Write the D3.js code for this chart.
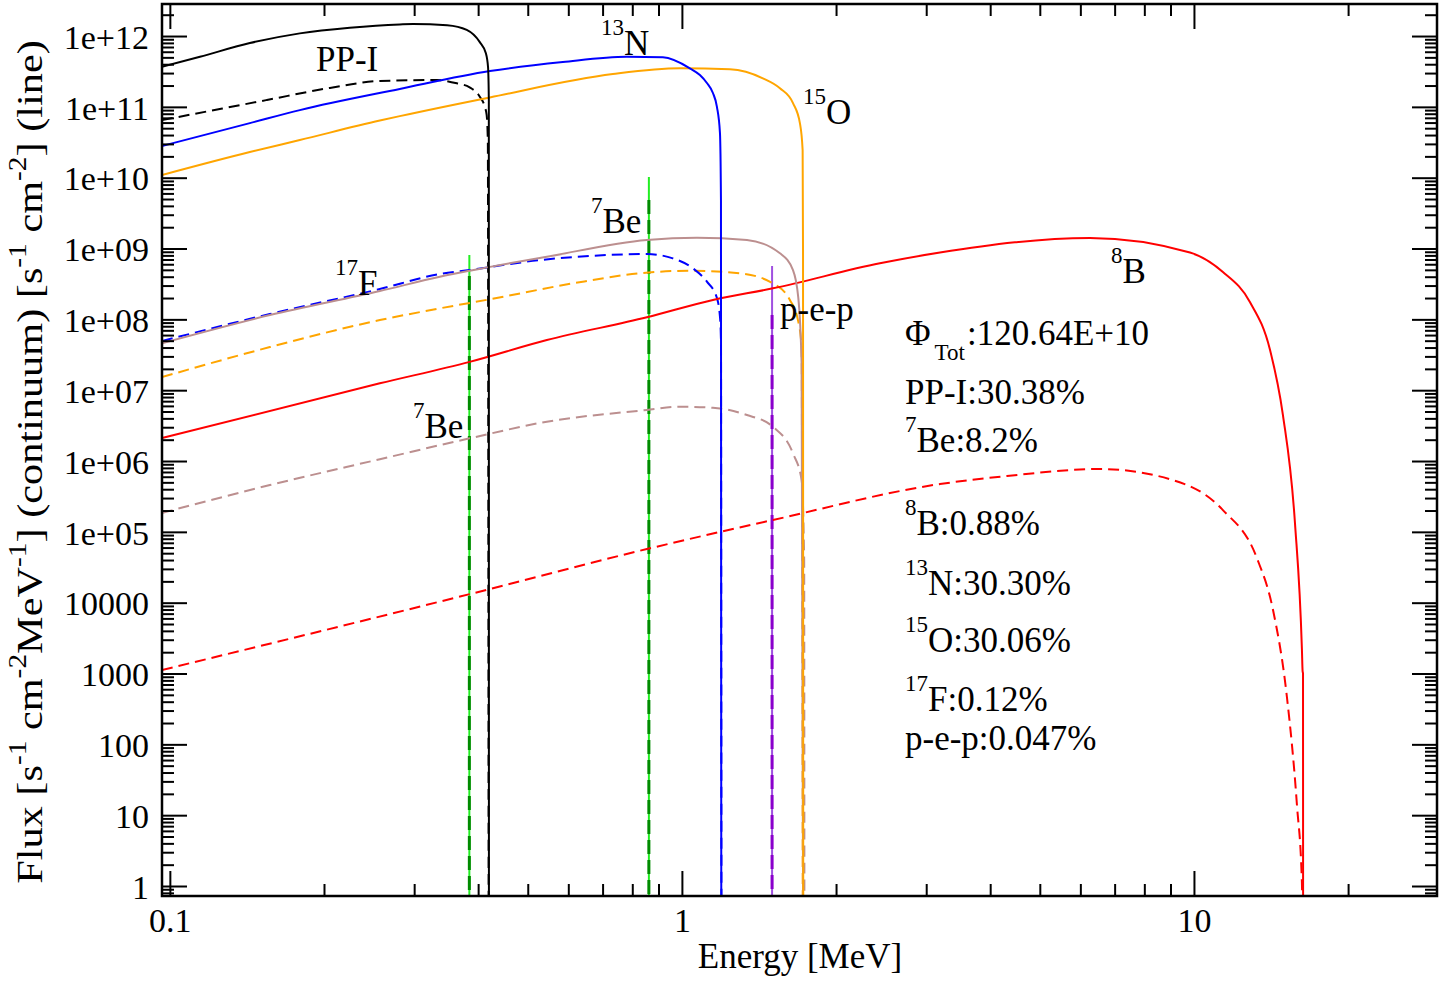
<!DOCTYPE html>
<html><head><meta charset="utf-8">
<script src="https://cdn.jsdelivr.net/npm/d3@7"></script>
<style>
body{margin:0;background:#fff;}
svg{display:block;background:#fff;}
text{font-family:"Liberation Serif","Times New Roman",Times,serif;fill:#000;white-space:pre;}
</style></head><body>
<svg id="chart" width="1442" height="982"></svg>
<script>
// ---------- tick values & labels ----------
const xTickValues = [0.1, 1, 10];
const xTickLabels = ["0.1", "1", "10"];
const xMinorTicks = [0.2,0.3,0.4,0.5,0.6,0.7,0.8,0.9,2,3,4,5,6,7,8,9,20];
const yTickValues = [1,10,100,1000,1e4,1e5,1e6,1e7,1e8,1e9,1e10,1e11,1e12];
const yTickLabels = ["1","10","100","1000","10000","1e+05","1e+06","1e+07","1e+08","1e+09","1e+10","1e+11","1e+12"];

// ---------- continuum spectra: [energy MeV, flux] ----------
const ppSolid = [[0.0965,3.69e11],[0.1145,5.1e11],[0.1433,7.96e11],[0.1794,1.09e12],[0.2246,1.31e12],[0.2812,1.46e12],[0.2984,1.48e12],[0.3479,1.42e12],[0.380,1.22e12],[0.403,8.2e11],[0.414,5.75e11],[0.4182,3.65e11],[0.4197,1.25e11],[0.4199,1e-2]];
const ppDashed = [[0.0965,6.5e10],[0.1547,1.25e11],[0.2054,1.85e11],[0.2571,2.32e11],[0.332,2.39e11],[0.3635,2.15e11],[0.385,1.89e11],[0.403,1.39e11],[0.4122,1.0e11],[0.4156,7.7e10],[0.4178,3.4e10],[0.4195,1e-2]];
const n13Solid = [[0.0965,2.8e10],[0.1433,5.9e10],[0.1794,9.0e10],[0.2812,1.79e11],[0.4217,3.2e11],[0.5855,4.3e11],[0.7808,5.1e11],[0.918,5.0e11],[1.0366,3.5e11],[1.0843,2.81e11],[1.119,2.17e11],[1.1497,1.57e11],[1.1706,1.0e11],[1.1866,4.3e10],[1.192,4.8e9],[1.194,1e-2]];
const n13Dashed = [[0.0965,4.94e7],[0.1568,1.19e8],[0.2571,2.68e8],[0.3368,4.37e8],[0.385,4.97e8],[0.528,6.87e8],[0.714,8.09e8],[0.8543,8.36e8],[0.9603,7.26e8],[1.0507,5.25e8],[1.119,3.4e8],[1.1706,2.0e8],[1.1866,1.09e8],[1.192,5.1e7],[1.195,1e-2]];
const o15Solid = [[0.0965,1.09e10],[0.1433,2.3e10],[0.1794,3.4e10],[0.2571,6.4e10],[0.2812,7.4e10],[0.4217,1.36e11],[0.7331,2.9e11],[0.991,3.5e11],[1.2409,3.39e11],[1.439,2.53e11],[1.554,1.83e11],[1.648,1.13e11],[1.700,5.9e10],[1.721,2.45e10],[1.724,9.5e8],[1.726,1e-2]];
const o15Dashed = [[0.0965,1.53e7],[0.1568,4.06e7],[0.2571,9.77e7],[0.3368,1.43e8],[0.4217,1.92e8],[0.6124,3.22e8],[0.828,4.47e8],[1.0366,4.86e8],[1.298,4.47e8],[1.5057,3.22e8],[1.625,1.88e8],[1.685,9.77e7],[1.713,4.1e7],[1.723,1e-2]];
const f17Solid = [[0.0965,4.6e7],[0.1568,1.15e8],[0.2571,2.51e8],[0.3368,4.0e8],[0.385,4.86e8],[0.5448,7.66e8],[0.8543,1.32e9],[1.070,1.42e9],[1.3397,1.32e9],[1.554,8.55e8],[1.648,4.97e8],[1.687,2.08e8],[1.713,2.38e7],[1.727,1e-2]];
const f17Dashed = [[0.0965,1.85e5],[0.1568,4.58e5],[0.2571,1.06e6],[0.385,2.09e6],[0.5448,3.59e6],[0.8543,5.25e6],[0.991,5.84e6],[1.1497,5.65e6],[1.3397,4.46e6],[1.5057,3.05e6],[1.648,1.28e6],[1.713,5.38e5],[1.733,4e4],[1.735,1e-2]];
const b8Solid = [[0.0965,2.11e6],[0.2571,1.25e7],[0.385,2.51e7],[0.5448,5.1e7],[0.8543,1.07e8],[1.1497,1.88e8],[1.5057,2.74e8],[2.436,6.18e8],[3.191,8.77e8],[6.265,1.41e9],[9.822,8.77e8],[11.39,4.66e8],[12.86,1.76e8],[14.08,3.69e7],[14.92,4.46e6],[15.75,1.33e5],[16.25,2.21e3],[16.30,1.08e3],[16.33,1.0e3],[16.34,1e-2]];
const b8Dashed = [[0.0965,1.12e3],[0.385,1.32e4],[0.8543,5.72e4],[1.5057,1.47e5],[3.191,4.73e5],[4.313,6.14e5],[6.553,7.71e5],[9.100,5.38e5],[11.39,2.03e5],[13.27,4.27e4],[14.27,7.87e3],[15.19,466],[15.89,13.9],[16.25,1.1],[16.33,1e-2]];

// ---------- line sources ----------
const be7Energies = [0.3845, 0.862];
const be7TopLight = [8.1e8, 1.02e10];
const be7TopDark  = [4.1e8, 4.84e9];
const pepEnergy = [1.5];
const pepTopLight = [5.66e8];
const pepTopDark  = [1.15e8];

// ---------- layout ----------
const plot = {left:162, right:1437, top:4, bottom:896};
const svg = d3.select("#chart");
svg.append("rect").attr("width",1442).attr("height",982).attr("fill","#fff");

const x = d3.scaleLog().domain([0.09653, 29.83]).range([plot.left, plot.right]);
const y = d3.scaleLog().domain([0.7226, 2.833e12]).range([plot.bottom, plot.top]);

svg.append("clipPath").attr("id","clip").append("rect")
  .attr("x",plot.left).attr("y",plot.top)
  .attr("width",plot.right-plot.left).attr("height",plot.bottom-plot.top);

const yMinor = [];
for (let n=-1;n<=12;n++) for (let k=2;k<=9;k++){ const v=k*Math.pow(10,n); if(v>=0.7226 && v<=2.833e12) yMinor.push(v); }

// ---------- vertical lines (7Be, pep) ----------
const gl = svg.append("g").attr("clip-path","url(#clip)");
function vline(E, top, color, w, dash){
  gl.append("line").attr("x1",x(E)).attr("x2",x(E)).attr("y1",y(top)).attr("y2",y(0.7226))
    .attr("stroke",color).attr("stroke-width",w).attr("stroke-dasharray",dash||null);
}
be7Energies.forEach((E,i)=>{ vline(E,be7TopLight[i],"#22ee22",2); vline(E,be7TopDark[i],"#008b00",3,"14,6"); });
pepEnergy.forEach((E,i)=>{ vline(E,pepTopLight[i],"#a050e0",2); vline(E,pepTopDark[i],"#8a00cc",3,"14,6"); });

// ---------- curves ----------
const line = d3.line().x(d=>x(d[0])).y(d=>y(d[1])).curve(d3.curveMonotoneX);
const series = [
  {d:b8Dashed, c:"#ff0000", dash:"11,6"},
  {d:f17Dashed, c:"#bc8f8f", dash:"11,6"},
  {d:o15Dashed, c:"#ffa500", dash:"11,6"},
  {d:n13Dashed, c:"#0000ff", dash:"11,6"},
  {d:ppDashed, c:"#000000", dash:"11,6"},
  {d:b8Solid, c:"#ff0000"},
  {d:f17Solid, c:"#bc8f8f"},
  {d:o15Solid, c:"#ffa500"},
  {d:n13Solid, c:"#0000ff"},
  {d:ppSolid, c:"#000000"}
];
const gc = svg.append("g").attr("clip-path","url(#clip)");
series.forEach(s=>{
  gc.append("path").attr("d",line(s.d)).attr("fill","none").attr("stroke",s.c)
    .attr("stroke-width",2).attr("stroke-dasharray",s.dash||null).attr("stroke-linejoin","round");
});

// ---------- axes ----------
function styleAxis(g){ g.select(".domain").remove(); g.selectAll(".tick line").attr("stroke","#000").attr("stroke-width",2); }
const fs = 34;
svg.append("g").attr("transform",`translate(0,${plot.bottom})`)
  .call(d3.axisBottom(x).tickValues(xTickValues).tickFormat((d,i)=>xTickLabels[i]).tickSizeInner(-25).tickSizeOuter(0))
  .call(styleAxis)
  .call(g=>g.selectAll("text").attr("y",36).attr("dy",null).attr("font-size",fs).attr("font-family",null));
svg.append("g").attr("transform",`translate(0,${plot.bottom})`)
  .call(d3.axisBottom(x).tickValues(xMinorTicks).tickFormat("").tickSizeInner(-12).tickSizeOuter(0)).call(styleAxis);
svg.append("g").attr("transform",`translate(0,${plot.top})`)
  .call(d3.axisTop(x).tickValues(xTickValues).tickFormat("").tickSizeInner(-25).tickSizeOuter(0)).call(styleAxis);
svg.append("g").attr("transform",`translate(0,${plot.top})`)
  .call(d3.axisTop(x).tickValues(xMinorTicks).tickFormat("").tickSizeInner(-12).tickSizeOuter(0)).call(styleAxis);
svg.append("g").attr("transform",`translate(${plot.left},0)`)
  .call(d3.axisLeft(y).tickValues(yTickValues).tickFormat((d,i)=>yTickLabels[i]).tickSizeInner(-25).tickSizeOuter(0))
  .call(styleAxis)
  .call(g=>g.selectAll("text").attr("x",-13).attr("dy","0.36em").attr("font-size",fs).attr("font-family",null));
svg.append("g").attr("transform",`translate(${plot.left},0)`)
  .call(d3.axisLeft(y).tickValues(yMinor).tickFormat("").tickSizeInner(-12).tickSizeOuter(0)).call(styleAxis);
svg.append("g").attr("transform",`translate(${plot.right},0)`)
  .call(d3.axisRight(y).tickValues(yTickValues).tickFormat("").tickSizeInner(-25).tickSizeOuter(0)).call(styleAxis);
svg.append("g").attr("transform",`translate(${plot.right},0)`)
  .call(d3.axisRight(y).tickValues(yMinor).tickFormat("").tickSizeInner(-12).tickSizeOuter(0)).call(styleAxis);

svg.append("rect").attr("x",plot.left).attr("y",plot.top).attr("width",plot.right-plot.left)
  .attr("height",plot.bottom-plot.top).attr("fill","none").attr("stroke","#000").attr("stroke-width",2.5);

// ---------- text helper ----------
function rich(parent, px, py, parts, o={}){
  const size=o.size||35, small=o.small||23, up=o.up||20, down=o.down||15;
  const t=parent.append("text").attr("x",px).attr("y",py).attr("font-size",size);
  if(o.anchor) t.attr("text-anchor",o.anchor);
  if(o.transform) t.attr("transform",o.transform);
  let shift=0;
  parts.forEach(p=>{
    const ts=t.append("tspan").text(p.t);
    let target=0, f=size;
    if(p.sup){target=-up; f=small;} else if(p.sub){target=down; f=small;}
    ts.attr("font-size",f);
    if(target-shift!==0) ts.attr("dy",target-shift);
    if(p.dx) ts.attr("dx",p.dx);
    shift=target;
  });
  return t;
}

// axis titles
rich(svg, 800, 968, [{t:"Energy [MeV]"}], {anchor:"middle", size:35});
const yTitle = rich(svg, 0, 0, [{t:"Flux [s"},{t:"-1",sup:1},{t:" cm"},{t:"-2",sup:1},{t:"MeV"},{t:"-1",sup:1},
  {t:"] (continuum) [s"},{t:"-1",sup:1},{t:" cm"},{t:"-2",sup:1},{t:"] (line)"}],
  {anchor:"middle", size:36, small:25, up:16, transform:"translate(42,462) rotate(-90)"});
// stretch the rotated title to the span it covers in the reference (y 40..884)
(function(){
  const len = yTitle.node().getComputedTextLength();
  const k = 844/len;
  const sx = Math.min(k, 1.3);
  yTitle.attr("transform",`translate(42,462) rotate(-90) scale(${sx},1)`);
})();

// curve labels
rich(svg, 316, 71, [{t:"PP-I"}]);
rich(svg, 601, 55, [{t:"13",sup:1},{t:"N"}]);
rich(svg, 803, 124, [{t:"15",sup:1},{t:"O"}]);
rich(svg, 591, 233, [{t:"7",sup:1},{t:"Be"}]);
rich(svg, 335, 295, [{t:"17",sup:1},{t:"F"}]);
rich(svg, 1111, 283, [{t:"8",sup:1},{t:"B"}]);
rich(svg, 780, 321, [{t:"p-e-p"}]);
rich(svg, 413, 438, [{t:"7",sup:1},{t:"Be"}]);

// summary block
const ax = 905;
rich(svg, ax, 345, [{t:"Φ"},{t:"Tot",sub:1,dx:4},{t:":120.64E+10",dx:2}]);
rich(svg, ax, 404, [{t:"PP-I:30.38%"}]);
rich(svg, ax, 452, [{t:"7",sup:1},{t:"Be:8.2%"}]);
rich(svg, ax, 535, [{t:"8",sup:1},{t:"B:0.88%"}]);
rich(svg, ax, 595, [{t:"13",sup:1},{t:"N:30.30%"}]);
rich(svg, ax, 652, [{t:"15",sup:1},{t:"O:30.06%"}]);
rich(svg, ax, 711, [{t:"17",sup:1},{t:"F:0.12%"}]);
rich(svg, ax, 750, [{t:"p-e-p:0.047%"}]);
</script>
</body></html>
